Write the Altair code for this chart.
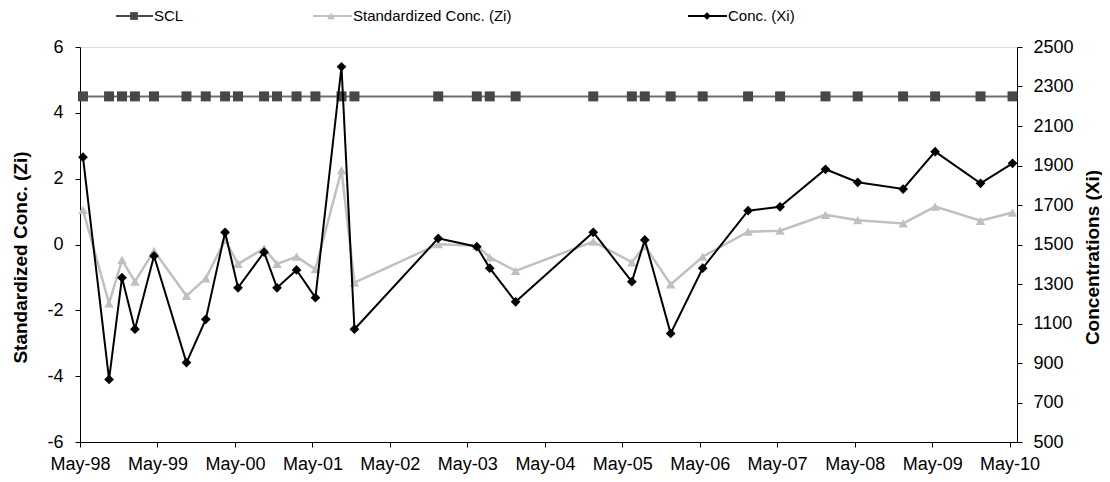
import altair as alt
import pandas as pd

# ---------------- data ----------------
dates = [
    "1998-05-15", "1998-09-15", "1998-11-15", "1999-01-15", "1999-04-15",
    "1999-09-15", "1999-12-15", "2000-03-15", "2000-05-15", "2000-09-15",
    "2000-11-15", "2001-02-15", "2001-05-15", "2001-09-15", "2001-11-15",
    "2002-12-15", "2003-06-15", "2003-08-15", "2003-12-15", "2004-12-15",
    "2005-06-15", "2005-08-15", "2005-12-15", "2006-05-15", "2006-12-15",
    "2007-05-15", "2007-12-15", "2008-05-15", "2008-12-15", "2009-05-15",
    "2009-12-15", "2010-05-15",
]
scl = [4.5, 4.5, 4.5, 4.5, 4.5, 4.5, 4.5, 4.5, 4.5, 4.5, 4.5, 4.5, 4.5, 4.5, 4.5, 4.5,
       4.5, 4.5, 4.5, 4.5, 4.5, 4.5, 4.5, 4.5, 4.5, 4.5, 4.5, 4.5, 4.5, 4.5, 4.5, 4.5]
zi = [1.05, -1.79, -0.47, -1.13, -0.19, -1.56, -1.03, 0.14, -0.59, -0.12,
      -0.59, -0.37, -0.75, 2.26, -1.16, 0.01, -0.04, -0.39, -0.80, 0.09,
      -0.54, -0.04, -1.21, -0.37, 0.39, 0.42, 0.90, 0.74, 0.64, 1.15,
      0.72, 0.97]
xi = [1942, 817, 1332, 1071, 1442, 902, 1121, 1562, 1281, 1461,
      1281, 1371, 1231, 2400, 1071, 1531, 1489, 1380, 1210, 1562,
      1312, 1523, 1050, 1380, 1671, 1691, 1881, 1815, 1781, 1970,
      1810, 1911]
scl_level = [4.5]
left_ticks = [-6, -4, -2, 0, 2, 4, 6]
right_ticks = [500, 700, 900, 1100, 1300, 1500, 1700, 1900, 2100, 2300, 2500]
tick_years = list(range(1998, 2011))
legend_labels = ["SCL", "Standardized Conc. (Zi)", "Conc. (Xi)"]

df = pd.DataFrame({"date": dates, "scl": scl, "zi": zi, "xi": xi})
one = pd.DataFrame({"k": [0]})

# ---------------- styling ----------------
FONT = "Liberation Sans"
TICK_SIZE = 18
X_TICK_SIZE = 18
TITLE_SIZE = 19
LEG_SIZE = 15

x_enc = alt.X(
    "date:T",
    title=None,
    scale=alt.Scale(
        type="utc",
        domain=[alt.DateTime(year=1998, month=5, date=1, utc=True),
                alt.DateTime(year=2010, month=6, date=5, utc=True)],
    ),
    axis=alt.Axis(
        values=[alt.DateTime(year=y, month=5, date=1, utc=True) for y in tick_years],
        labelExpr="utcFormat(datum.value, '%b-%y')", grid=False,
        domainColor="#000", tickColor="#000", tickSize=5, labelPadding=8,
        labelFont=FONT, labelFontSize=X_TICK_SIZE, labelColor="#000",
        labelFlush=False, labelOverlap=False,
    ),
)

left_axis = alt.Axis(
    values=left_ticks, grid=False, domainColor="#000", tickColor="#000",
    tickSize=5, labelPadding=12, labelFont=FONT, labelFontSize=TICK_SIZE,
    labelColor="#000", labelExpr="'' + datum.value",
    title="Standardized Conc.  (Zi)", titleFont=FONT,
    titleFontSize=TITLE_SIZE, titleFontWeight="bold", titleColor="#000",
    titleBaseline="middle", titleX=-60, titleY=210,
)
left_scale = alt.Scale(domain=[-6, 6], nice=False, zero=False)

right_axis = alt.Axis(
    orient="right", values=right_ticks, grid=False, domainColor="#000",
    tickColor="#000", tickSize=5, labelPadding=11, labelFont=FONT,
    labelFontSize=TICK_SIZE, labelColor="#000", labelExpr="'' + datum.value",
    title="Concentrations (Xi)",
    titleFont=FONT, titleFontSize=TITLE_SIZE, titleFontWeight="bold",
    titleColor="#000", titleAngle=270, titleBaseline="middle",
    titleX=75, titleY=210,
)
right_scale = alt.Scale(domain=[500, 2500], nice=False, zero=False)

# ---------------- left-axis layers ----------------
scl_rule = alt.Chart(pd.DataFrame({"scl": scl_level})).mark_rule(
    color="#6e6e6e", strokeWidth=2
).encode(y=alt.Y("scl:Q", scale=left_scale, axis=left_axis))

scl_pts = alt.Chart(df).mark_point(
    shape="square", size=100, filled=True, color="#474747", opacity=1
).encode(x=x_enc, y=alt.Y("scl:Q", scale=left_scale, axis=left_axis))

zi_line = alt.Chart(df).mark_line(color="#c0c0c0", strokeWidth=2.5).encode(
    x=x_enc, y=alt.Y("zi:Q", scale=left_scale, axis=left_axis))
zi_pts = alt.Chart(df).mark_point(
    shape="triangle-up", size=90, filled=True, color="#c0c0c0", opacity=1
).encode(x=x_enc, y=alt.Y("zi:Q", scale=left_scale, axis=left_axis))

# ---------------- legend (manual, above plot) ----------------
LEG_Y = -31
leg_items = [
    # (line start, line end, marker x, shape, marker color, line color)
    (36, 73, 54, "square", "#474747", "#474747"),
    (233, 272, 251, "triangle-up", "#c0c0c0", "#c0c0c0"),
    (608, 647, 627, "diamond", "#000000", "#000000"),
]
legend_layers = []
for (x1, x2, xm, shp, col, lcol), label in zip(leg_items, legend_labels):
    legend_layers.append(
        alt.Chart(one).mark_rule(color=lcol, strokeWidth=2).encode(
            x=alt.value(x1), x2=alt.value(x2), y=alt.value(LEG_Y)))
    legend_layers.append(
        alt.Chart(one).mark_point(shape=shp, size=60, filled=True, color=col, opacity=1).encode(
            x=alt.value(xm), y=alt.value(LEG_Y)))
    legend_layers.append(
        alt.Chart(one).mark_text(align="left", baseline="middle", font=FONT,
                                 fontSize=LEG_SIZE, color="#000").encode(
            x=alt.value(x2 + 1), y=alt.value(LEG_Y), text=alt.value(label)))

left = alt.layer(scl_rule, scl_pts, zi_line, zi_pts, *legend_layers)

# ---------------- right-axis layers ----------------
xi_line = alt.Chart(df).mark_line(color="#000", strokeWidth=2).encode(
    x=x_enc, y=alt.Y("xi:Q", scale=right_scale, axis=right_axis))
xi_pts = alt.Chart(df).mark_point(
    shape="diamond", size=95, filled=True, color="#000", opacity=1
).encode(x=x_enc, y=alt.Y("xi:Q", scale=right_scale, axis=right_axis))
right = alt.layer(xi_line, xi_pts)

chart = alt.layer(left, right).resolve_scale(y="independent").properties(
    width=937, height=395,
    autosize=alt.AutoSizeParams(type="none"),
    padding={"left": 72, "top": 39, "right": 85, "bottom": 32},
).configure_view(stroke="#8c8c8c", strokeWidth=1).configure(background="white")

chart.save("out.html", embed_options={"renderer": "svg", "actions": False})
